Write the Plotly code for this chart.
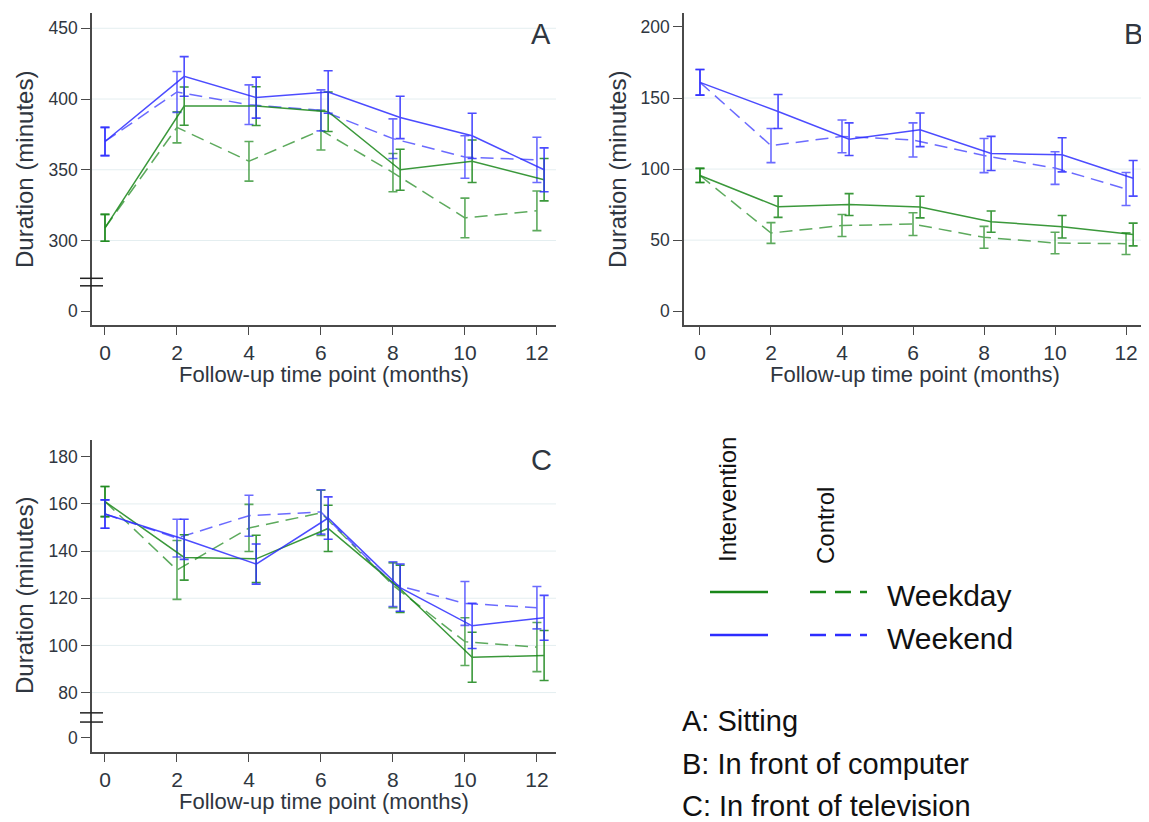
import plotly.graph_objects as go

# ---------------- data ----------------
months = [0, 2, 4, 6, 8, 10, 12]
int_offset = 0.2   # intervention points drawn slightly to the right (follow-ups only)

# Panel A: Sitting
A_int_wd = [309, 395, 395, 391, 350, 356, 343]
A_int_wd_err = [9.5, 13.5, 13.7, 14, 14.5, 15, 15]
A_ctl_wd = [309, 380, 356, 378, 348, 316, 321]
A_ctl_wd_err = [9.5, 11, 14, 14, 13.5, 14, 14]
A_int_we = [370, 416, 401, 405, 387, 374, 350]
A_int_we_err = [10, 14, 14.5, 15, 15, 16, 15.5]
A_ctl_we = [370, 405, 396, 392, 372, 359, 357]
A_ctl_we_err = [10, 14.5, 14, 14.5, 14, 15, 16]

# Panel B: In front of computer
B_int_wd = [95.5, 73.5, 75, 73.3, 63, 59.4, 54]
B_int_wd_err = [5, 7.5, 7.7, 7.6, 7.5, 7.9, 8]
B_ctl_wd = [95.5, 55, 60.3, 61.3, 52, 48, 47.5]
B_ctl_wd_err = [5, 7.3, 7.7, 8, 7.7, 7.6, 7.6]
B_int_we = [161, 140.5, 121, 127.6, 111, 110, 93.5]
B_int_we_err = [9, 12, 11.5, 11.8, 12, 12, 12.5]
B_ctl_we = [161, 116.5, 123, 120.5, 109.5, 100.7, 86]
B_ctl_we_err = [9, 12, 11.5, 12, 12, 11.5, 11.6]

# Panel C: In front of television
C_int_wd = [161, 137.3, 136.7, 149.6, 124, 95, 95.7]
C_int_wd_err = [6.4, 9.6, 10, 9.8, 10, 10.6, 10.6]
C_ctl_wd = [161, 132, 149.8, 156.2, 125.5, 101.6, 99.3]
C_ctl_wd_err = [6.4, 12.5, 10, 9.6, 9.5, 10.1, 10.4]
C_int_we = [155.7, 145, 134.5, 154, 124.5, 108.3, 111.7]
C_int_we_err = [6, 8.5, 8.5, 9, 10, 9.6, 9.5]
C_ctl_we = [155.7, 145.5, 155, 156.6, 126, 117.8, 116]
C_ctl_we_err = [6, 8, 8.7, 9.4, 9.5, 9.3, 9]

# y-axis ticks (broken axes: the "0" label sits below the break)
A_tickvals = [250, 300, 350, 400, 450]
A_ticktext = ["0", "300", "350", "400", "450"]
A_grid = [300, 350, 400, 450]
A_break = [268, 273.3]
B_tickvals = [0, 50, 100, 150, 200]
B_ticktext = ["0", "50", "100", "150", "200"]
B_grid = [50, 100, 150]
C_tickvals = [61, 80, 100, 120, 140, 160, 180]
C_ticktext = ["0", "80", "100", "120", "140", "160", "180"]
C_grid = [80, 100, 120, 140, 160]
C_break = [67.5, 71.4]

panel_letters = ["A", "B", "C"]
legend_groups = ["Intervention", "Control"]
legend_days = ["Weekday", "Weekend"]
panel_names = ["A: Sitting", "B: In front of computer", "C: In front of television"]
x_title = "Follow-up time point (months)"
y_title = "Duration (minutes)"

# ---------------- style ----------------
OFF = 8                     # page body margin of the html output
W, H = 1149 - OFF, 822 - OFF
FONT = "Liberation Sans, Arial, sans-serif"
GREEN = "rgb(25,135,25)"
BLUE = "rgb(45,45,255)"
AXC = "#4a4a4a"
TXT = "#2f3640"
GRIDC = "#e4eef0"


def px(x):
    return (x - OFF) / W


def py(y):
    return 1 - (y - OFF) / H


x_int = [m if m == 0 else m + int_offset for m in months]
x_ctl = list(months)

fig = go.Figure()


def add_series(xs, ys, errs, color, dash, opacity, xa, ya):
    fig.add_trace(go.Scatter(
        x=xs, y=ys, mode="lines",
        line=dict(color=color, width=1.5, dash=dash),
        opacity=opacity,
        error_y=dict(type="data", array=errs, visible=True, color=color,
                     thickness=1.6, width=4.5),
        xaxis=xa, yaxis=ya, showlegend=False, hoverinfo="skip"))


panels = [
    ("x", "y", A_int_wd, A_int_wd_err, A_ctl_wd, A_ctl_wd_err, A_int_we, A_int_we_err, A_ctl_we, A_ctl_we_err),
    ("x2", "y2", B_int_wd, B_int_wd_err, B_ctl_wd, B_ctl_wd_err, B_int_we, B_int_we_err, B_ctl_we, B_ctl_we_err),
    ("x3", "y3", C_int_wd, C_int_wd_err, C_ctl_wd, C_ctl_wd_err, C_int_we, C_int_we_err, C_ctl_we, C_ctl_we_err),
]
DASH = "13px,7px"
for xa, ya, iwd, iwde, cwd, cwde, iwe, iwee, cwe, cwee in panels:
    add_series(x_ctl, cwd, cwde, GREEN, DASH, 0.7, xa, ya)
    add_series(x_ctl, cwe, cwee, BLUE, DASH, 0.7, xa, ya)
    add_series(x_int, iwd, iwde, GREEN, "solid", 0.85, xa, ya)
    add_series(x_int, iwe, iwee, BLUE, "solid", 0.85, xa, ya)

# ---------------- axes ----------------
common_x = dict(tickvals=months, ticktext=[str(m) for m in months], ticks="outside",
                ticklen=8, tickwidth=1.3, tickcolor=AXC, showline=True, linecolor=AXC,
                linewidth=1.5, showgrid=False, zeroline=False,
                tickfont=dict(family=FONT, size=21, color=TXT))
common_y = dict(ticks="outside", ticklen=9, tickwidth=1.3, tickcolor=AXC, showline=True,
                linecolor=AXC, linewidth=1.5, showgrid=False, zeroline=False,
                tickfont=dict(family=FONT, size=17.5, color=TXT))

dom_left = [px(92), px(556)]
dom_right = [px(684), px(1147)]
dom_top = [py(325), py(13)]
dom_bot = [py(752), py(440)]

fig.update_layout(
    xaxis=dict(domain=dom_left, range=[-0.361, 12.53], anchor="y", **common_x),
    yaxis=dict(domain=dom_top, range=[240.3, 460.8], anchor="x",
               tickvals=A_tickvals, ticktext=A_ticktext, **common_y),
    xaxis2=dict(domain=dom_right, range=[-0.45, 12.59], anchor="y2", **common_x),
    yaxis2=dict(domain=dom_top, range=[-9.7, 209.8], anchor="x2",
                tickvals=B_tickvals, ticktext=B_ticktext, **common_y),
    xaxis3=dict(domain=dom_left, range=[-0.361, 12.53], anchor="y3", **common_x),
    yaxis3=dict(domain=dom_bot, range=[54.8, 187.1], anchor="x3",
                tickvals=C_tickvals, ticktext=C_ticktext, **common_y),
)

shapes = []
# grid lines
for ya, xa, grid in [("y", "x", A_grid), ("y2", "x2", B_grid), ("y3", "x3", C_grid)]:
    for v in grid:
        shapes.append(dict(type="line", xref=xa + " domain", x0=0, x1=1, yref=ya, y0=v, y1=v,
                           line=dict(color=GRIDC, width=1), layer="below"))
# axis break marks
for ya, brk in [("y", A_break), ("y3", C_break)]:
    for v in brk:
        shapes.append(dict(type="line", xref="paper", x0=px(80), x1=px(103), yref=ya, y0=v, y1=v,
                           line=dict(color="#222222", width=1.5)))
# legend keys
for color, ypix in [(GREEN, 592), (BLUE, 635)]:
    shapes.append(dict(type="line", xref="paper", yref="paper", x0=px(710), x1=px(768),
                       y0=py(ypix), y1=py(ypix), line=dict(color=color, width=2.5)))
    shapes.append(dict(type="line", xref="paper", yref="paper", x0=px(810), x1=px(867),
                       y0=py(ypix), y1=py(ypix), line=dict(color=color, width=2.5, dash="16px,9px")))

annotations = []
# axis titles
for cx, cy in [(24, 170), (617, 170), (24, 596)]:
    annotations.append(dict(text=y_title, x=px(cx), y=py(cy), xref="paper", yref="paper",
                            textangle=-90, showarrow=False, xanchor="center", yanchor="middle",
                            font=dict(family=FONT, size=24, color=TXT)))
for cx, cy in [(324, 374), (915, 374), (324, 801)]:
    annotations.append(dict(text=x_title, x=px(cx), y=py(cy), xref="paper", yref="paper",
                            showarrow=False, xanchor="center", yanchor="middle",
                            font=dict(family=FONT, size=22, color=TXT)))
# panel letters
for letter, (cx, cy) in zip(panel_letters, [(541, 34), (1133, 34), (541, 460)]):
    annotations.append(dict(text=letter, x=px(cx), y=py(cy), xref="paper", yref="paper",
                            showarrow=False, xanchor="center", yanchor="middle",
                            font=dict(family=FONT, size=29, color=TXT)))
# legend texts
for label, (cx, cy) in zip(legend_groups, [(727, 500), (825, 526)]):
    annotations.append(dict(text=label, x=px(cx), y=py(cy), xref="paper", yref="paper",
                            textangle=-90, showarrow=False, xanchor="center", yanchor="middle",
                            font=dict(family=FONT, size=24, color="#111111")))
for label, cy in zip(legend_days, [595, 638]):
    annotations.append(dict(text=label, x=px(885), y=py(cy), xref="paper", yref="paper",
                            showarrow=False, xanchor="left", yanchor="middle",
                            font=dict(family=FONT, size=30, color="#111111")))
for label, cy in zip(panel_names, [721, 764, 806]):
    annotations.append(dict(text=label, x=px(680), y=py(cy), xref="paper", yref="paper",
                            showarrow=False, xanchor="left", yanchor="middle",
                            font=dict(family=FONT, size=29, color="#111111")))

fig.update_layout(width=W, height=H, margin=dict(l=0, r=0, t=0, b=0),
                  paper_bgcolor="white", plot_bgcolor="white",
                  shapes=shapes, annotations=annotations, showlegend=False,
                  font=dict(family=FONT))

fig.write_html("out.html")
